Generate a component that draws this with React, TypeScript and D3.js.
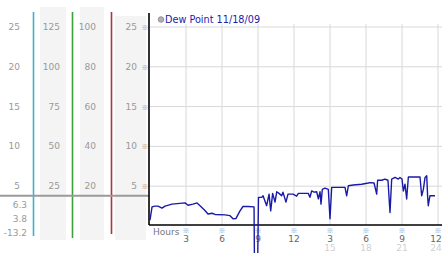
import React from "react";
import * as d3 from "d3";

const yTicks = [25, 20, 15, 10, 5];
const col2Labels = ["125", "100", "75", "50", "25"];
const col3Labels = ["100", "80", "60", "40", "20"];
const statLabels = ["6.3", "3.8", "-13.2"];
const currentValue = 3.8;
const xTicks = [3, 6, 9, 12, 15, 18, 21, 24];
const xTopLabels = ["3", "6", "9", "12", "3", "6", "9", "12"];
const xBottomLabels = ["", "", "", "", "15", "18", "21", "24"];
const legendLabel = "Dew Point 11/18/09";

const hours = [
  0, 0.17, 0.42, 0.67, 1.0, 1.25, 1.83, 2.92, 3.17, 3.58, 3.92, 4.17, 4.58, 4.83, 5.17, 5.42,
  6.25, 6.67, 6.92, 7.17, 7.5, 7.75, 8.17, 8.67, 8.75, 8.9,
  9.04, 9.31, 9.42, 9.72, 9.92, 10.06, 10.22, 10.42, 10.56, 10.75, 10.97, 11.08, 11.33, 11.5,
  11.92, 12.22, 12.36, 12.92, 13.19, 13.33, 13.47, 13.67, 13.89, 14.03, 14.17, 14.25, 14.36,
  14.58, 14.86, 15.0, 15.14, 16.25, 16.39, 16.53, 16.94, 17.64, 18.19, 18.33, 18.67, 18.89,
  18.97, 19.31, 19.58, 19.83, 20.0, 20.14, 20.42, 20.69, 20.83, 21.0, 21.11, 21.25, 21.39,
  21.53, 22.5, 22.64, 22.78, 22.92, 23.06, 23.14, 23.19, 23.33, 23.75,
];
const dewPoint = [
  0.75, 2.4, 2.5, 2.5, 2.25, 2.5, 2.75, 2.9, 2.6, 2.75, 2.9, 2.55, 1.95, 1.5, 1.6, 1.45,
  1.4, 1.3, 0.9, 0.95, 1.9, 2.45, 2.45, 2.4, -13.2, -13.2,
  3.6, 3.6, 3.8, 2.55, 4.0, 1.9, 4.1, 3.0, 4.3, 4.1, 3.8, 4.25, 3.0, 4.0,
  4.0, 3.75, 4.1, 4.1, 4.1, 3.6, 4.4, 4.25, 4.3, 3.4, 4.3, 2.75, 4.6,
  4.75, 4.6, 0.9, 4.85, 4.85, 3.8, 5.05, 5.15, 5.25, 5.4, 5.45, 5.4, 4.0,
  5.75, 5.75, 5.9, 5.75, 1.7, 5.9, 6.1, 5.9, 6.1, 5.9, 4.4, 5.25, 3.4,
  6.15, 6.15, 3.8, 4.6, 6.1, 6.3, 3.6, 2.55, 3.8, 3.8,
];

const W = 442;
const H = 253;
const FONT = "DejaVu Sans, Verdana, sans-serif";
const MARK_FONT = "Noto Sans CJK SC, DejaVu Sans, sans-serif";

export default function App() {
  const y = d3.scaleLinear().domain([0, 25]).range([226, 27]);
  const x = d3.scaleLinear().domain([0, 24]).range([150, 438]);
  const axisX = 149;
  const bottom = y(0) - 1;

  const line = d3
    .line<number>()
    .x((_, i) => x(hours[i]))
    .y((d) => y(d));

  const gray = "#999";
  const panel = "#f4f4f4";

  return (
    <svg
      width={W}
      height={H}
      style={{ position: "absolute", left: 0, top: 0, background: "#fff" }}
      fontFamily={FONT}
    >
      {/* left panels */}
      <rect x={40} y={7} width={26} height={233} fill={panel} />
      <rect x={80} y={7} width={24} height={233} fill={panel} />
      <rect x={115} y={16} width={31} height={224} fill={panel} />
      <line x1={33.5} x2={33.5} y1={12} y2={236} stroke="#3fb2cc" strokeWidth={1.6} />
      <line x1={72.5} x2={72.5} y1={12} y2={238} stroke="#3aa23a" strokeWidth={1.6} />
      <line x1={111.5} x2={111.5} y1={12} y2={234} stroke="#b03535" strokeWidth={1.6} />

      {yTicks.map((t, i) => (
        <g key={"yl" + i} fontSize={9} fill={gray} dominantBaseline="central" textAnchor="end">
          <text x={20} y={y(t)}>{t}</text>
          <text x={60} y={y(t)}>{col2Labels[i]}</text>
          <text x={96} y={y(t)}>{col3Labels[i]}</text>
          <text x={137} y={y(t)}>{t}</text>
          <text x={145} y={y(t)} fontSize={7} textAnchor="middle" fontFamily={MARK_FONT} fill="#999">※</text>
        </g>
      ))}
      {statLabels.map((s, i) => (
        <text
          key={"st" + i}
          x={27}
          y={205 + i * 14}
          fontSize={9}
          fill={gray}
          textAnchor="end"
          dominantBaseline="central"
        >
          {s}
        </text>
      ))}

      {/* current value bar */}
      <line x1={0} x2={axisX} y1={y(currentValue)} y2={y(currentValue)} stroke="#9a9a9a" strokeWidth={2} />

      {/* grid */}
      {yTicks.map((t) => (
        <line key={"gh" + t} x1={axisX} x2={W} y1={y(t)} y2={y(t)} stroke="#d8d8d8" strokeWidth={1} />
      ))}
      {xTicks.map((t) => (
        <line key={"gv" + t} x1={x(t)} x2={x(t)} y1={24} y2={bottom} stroke="#d8d8d8" strokeWidth={1} />
      ))}

      {/* axes */}
      <line x1={axisX} x2={axisX} y1={13} y2={bottom} stroke="#000" strokeWidth={1.6} />
      <line x1={axisX} x2={W} y1={bottom} y2={bottom} stroke="#000" strokeWidth={1.3} />

      {/* x labels */}
      <text x={153} y={232} fontSize={9} fill="#777" dominantBaseline="central">Hours</text>
      {xTicks.map((t, i) => (
        <g key={"xl" + t} textAnchor="middle" dominantBaseline="central">
          <text x={x(t)} y={230} fontSize={7} fill="#999" fontFamily={MARK_FONT}>※</text>
          <text x={Math.min(x(t), 436)} y={238.5} fontSize={9} fill="#666">{xTopLabels[i]}</text>
          {xBottomLabels[i] && (
            <text x={Math.min(x(t), 436)} y={248} fontSize={9} fill="#d0d0d0">{xBottomLabels[i]}</text>
          )}
        </g>
      ))}

      {/* data */}
      <path d={line(dewPoint) || ""} fill="none" stroke="#1a1aa8" strokeWidth={1.4} strokeLinejoin="round" />

      {/* legend */}
      <circle cx={161} cy={19.5} r={2.8} fill="#b0b0b0" stroke="#888" strokeWidth={0.8} />
      <text x={165} y={19.5} fontSize={9.7} fill="#1c1ca8" dominantBaseline="central">{legendLabel}</text>
    </svg>
  );
}
